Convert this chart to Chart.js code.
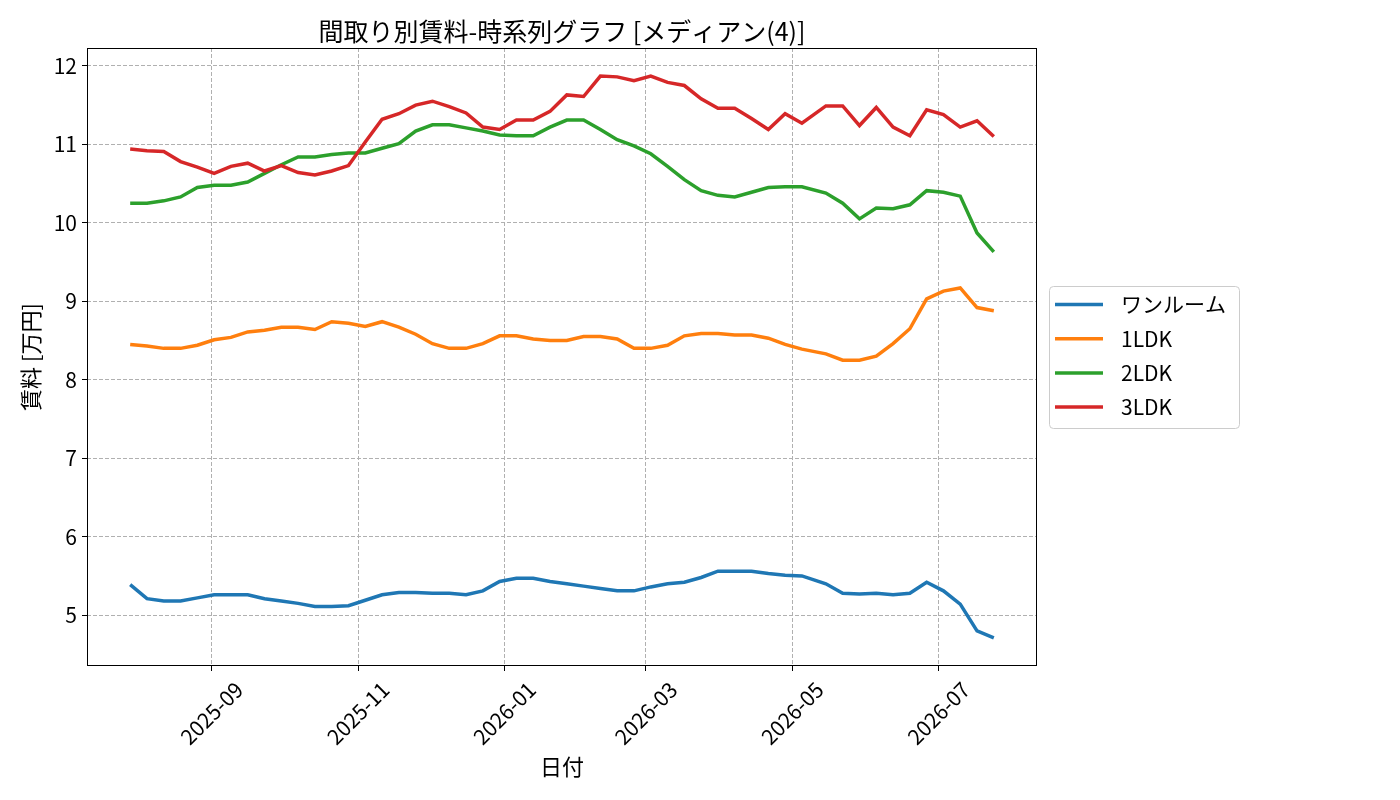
<!DOCTYPE html>
<html lang="ja">
<head>
<meta charset="utf-8">
<title>間取り別賃料-時系列グラフ</title>
<script src="https://cdn.jsdelivr.net/npm/chart.js@4.4.1/dist/chart.umd.min.js"></script>
<style>
  html, body { margin: 0; padding: 0; background: #fff; }
  #wrap { width: 1400px; height: 800px; }
</style>
</head>
<body>
<div id="wrap"><canvas id="rentChart" width="1400" height="800"></canvas></div>
<script>
// 日付（週次、1か所だけ10日間隔）
const dates = [
  '2025-07-29', '2025-08-05', '2025-08-12', '2025-08-19', '2025-08-26',
  '2025-09-02', '2025-09-09', '2025-09-16', '2025-09-23', '2025-09-30',
  '2025-10-07', '2025-10-14', '2025-10-21', '2025-10-28', '2025-11-04',
  '2025-11-11', '2025-11-18', '2025-11-25', '2025-12-02', '2025-12-09',
  '2025-12-16', '2025-12-23', '2025-12-30', '2026-01-06', '2026-01-13',
  '2026-01-20', '2026-01-27', '2026-02-03', '2026-02-10', '2026-02-17',
  '2026-02-24', '2026-03-03', '2026-03-10', '2026-03-17', '2026-03-24',
  '2026-03-31', '2026-04-07', '2026-04-14', '2026-04-21', '2026-04-28',
  '2026-05-05', '2026-05-15', '2026-05-22', '2026-05-29', '2026-06-05',
  '2026-06-12', '2026-06-19', '2026-06-26', '2026-07-03', '2026-07-10',
  '2026-07-17', '2026-07-24'
];

// 賃料 [万円]
const oneRoom = [
  5.39, 5.21, 5.18, 5.18, 5.22, 5.26, 5.26, 5.26, 5.21, 5.18,
  5.15, 5.11, 5.11, 5.12, 5.19, 5.26, 5.29, 5.29, 5.28, 5.28,
  5.26, 5.31, 5.43, 5.47, 5.47, 5.43, 5.40, 5.37, 5.34, 5.31,
  5.31, 5.36, 5.40, 5.42, 5.48, 5.56, 5.56, 5.56, 5.53, 5.51,
  5.50, 5.40, 5.28, 5.27, 5.28, 5.26, 5.28, 5.42, 5.31, 5.14,
  4.80, 4.71
];
const oneLDK = [
  8.45, 8.43, 8.40, 8.40, 8.44, 8.51, 8.54, 8.61, 8.63, 8.67,
  8.67, 8.64, 8.74, 8.72, 8.68, 8.74, 8.67, 8.58, 8.46, 8.40,
  8.40, 8.46, 8.56, 8.56, 8.52, 8.50, 8.50, 8.55, 8.55, 8.52,
  8.40, 8.40, 8.44, 8.56, 8.59, 8.59, 8.57, 8.57, 8.53, 8.45,
  8.39, 8.33, 8.25, 8.25, 8.30, 8.46, 8.65, 9.03, 9.13, 9.17,
  8.92, 8.88
];
const twoLDK = [
  10.25, 10.25, 10.28, 10.33, 10.45, 10.48, 10.48, 10.52, 10.63, 10.74,
  10.84, 10.84, 10.87, 10.89, 10.89, 10.95, 11.01, 11.17, 11.25, 11.25,
  11.21, 11.17, 11.12, 11.11, 11.11, 11.22, 11.31, 11.31, 11.19, 11.06,
  10.98, 10.88, 10.72, 10.55, 10.41, 10.35, 10.33, 10.39, 10.45, 10.46,
  10.46, 10.38, 10.25, 10.05, 10.19, 10.18, 10.23, 10.41, 10.39, 10.34,
  9.87, 9.63
];
const threeLDK = [
  10.94, 10.92, 10.91, 10.78, 10.71, 10.63, 10.72, 10.76, 10.66, 10.73,
  10.64, 10.61, 10.66, 10.73, 11.03, 11.32, 11.39, 11.50, 11.55, 11.48,
  11.40, 11.22, 11.19, 11.31, 11.31, 11.42, 11.63, 11.61, 11.87, 11.86,
  11.81, 11.87, 11.79, 11.75, 11.58, 11.46, 11.46, 11.33, 11.19, 11.39,
  11.27, 11.49, 11.49, 11.24, 11.47, 11.22, 11.11, 11.44, 11.38, 11.22,
  11.30, 11.10
];

const seriesLabels = ['ワンルーム', '1LDK', '2LDK', '3LDK'];
const seriesColors = ['#1f77b4', '#ff7f0e', '#2ca02c', '#d62728'];

// 目盛り
const xTickDates = ['2025-09-01', '2025-11-01', '2026-01-01', '2026-03-01', '2026-05-01', '2026-07-01'];
const xTickLabels = ['2025-09', '2025-11', '2026-01', '2026-03', '2026-05', '2026-07'];
const yTicks = [5, 6, 7, 8, 9, 10, 11, 12];

const FONT = '"Noto Sans CJK JP", "Noto Sans", sans-serif';
const toDay = s => Date.parse(s) / 86400000;
const xs = dates.map(toDay);

const toPoints = arr => arr.map((v, i) => ({ x: xs[i], y: v }));
const allValues = [].concat(oneRoom, oneLDK, twoLDK, threeLDK);

// matplotlib風の5%余白
const xSpan = xs[xs.length - 1] - xs[0];
const yMin = Math.min(...allValues), yMax = Math.max(...allValues);
const ySpan = yMax - yMin;

const tickTextPx = 21;

// タイトル・軸ラベル・x目盛り文字・枠線・凡例を描く
const decorPlugin = {
  id: 'decor',
  afterDatasetsDraw(chart) {
    const { ctx, chartArea: a } = chart;
    ctx.save();

    // 枠線
    ctx.strokeStyle = '#000';
    ctx.lineWidth = 1;
    ctx.strokeRect(Math.round(a.left) + 0.5, Math.round(a.top) + 0.5,
      Math.round(a.right - a.left) - 1, Math.round(a.bottom - a.top) - 1);

    ctx.fillStyle = '#000';

    // タイトル
    ctx.font = `25px ${FONT}`;
    ctx.textAlign = 'center';
    ctx.textBaseline = 'middle';
    ctx.fillText('間取り別賃料-時系列グラフ [メディアン(4)]', (a.left + a.right) / 2, 31);

    // x軸ラベル
    ctx.font = `22px ${FONT}`;
    ctx.fillText('日付', (a.left + a.right) / 2, 767);

    // y軸ラベル
    ctx.save();
    ctx.translate(31, (a.top + a.bottom) / 2);
    ctx.rotate(-Math.PI / 2);
    ctx.fillText('賃料 [万円]', 0, 0);
    ctx.restore();

    // x目盛り文字（45度回転、中心揃え）
    const xScale = chart.scales.x;
    ctx.font = `${tickTextPx}px ${FONT}`;
    xTickDates.forEach((d, i) => {
      const px = xScale.getPixelForValue(toDay(d));
      const w = ctx.measureText(xTickLabels[i]).width;
      const h = tickTextPx * 1.2;
      const half = (w + h) * Math.SQRT1_2 / 2;
      ctx.save();
      ctx.translate(px, a.bottom + 11 + half);
      ctx.rotate(-Math.PI / 4);
      ctx.fillText(xTickLabels[i], 0, 0);
      ctx.restore();
    });

    // 凡例
    const lx = 1049.5, ly = 286.5, lw = 190, lh = 142;
    ctx.beginPath();
    ctx.roundRect(lx, ly, lw, lh, 4);
    ctx.fillStyle = 'rgba(255,255,255,0.8)';
    ctx.fill();
    ctx.strokeStyle = '#cccccc';
    ctx.stroke();
    ctx.textAlign = 'left';
    ctx.font = `${tickTextPx}px ${FONT}`;
    chart.data.datasets.forEach((ds, i) => {
      const y = 304.5 + i * 34.2;
      ctx.strokeStyle = ds.borderColor;
      ctx.lineWidth = 3.5;
      ctx.beginPath();
      ctx.moveTo(1055, y);
      ctx.lineTo(1103, y);
      ctx.stroke();
      ctx.fillStyle = '#000';
      ctx.fillText(ds.label, 1121, y);
    });

    ctx.restore();
  }
};

const ctx = document.getElementById('rentChart').getContext('2d');

new Chart(ctx, {
  type: 'line',
  data: {
    datasets: [oneRoom, oneLDK, twoLDK, threeLDK].map((arr, i) => ({
      label: seriesLabels[i],
      data: toPoints(arr),
      borderColor: seriesColors[i],
      backgroundColor: seriesColors[i],
      borderWidth: 3.5,
      pointRadius: 0,
      tension: 0,
      fill: false,
      order: 3 - i // 3LDKを一番上に
    }))
  },
  options: {
    responsive: false,
    animation: false,
    devicePixelRatio: 1,
    layout: { padding: { left: 0, top: 48, right: 363, bottom: 0 } },
    plugins: {
      legend: { display: false },
      title: { display: false },
      tooltip: { enabled: false }
    },
    scales: {
      x: {
        type: 'linear',
        min: xs[0] - xSpan * 0.05,
        max: xs[xs.length - 1] + xSpan * 0.05,
        afterBuildTicks: scale => {
          scale.ticks = xTickDates.map(d => ({ value: toDay(d) }));
        },
        afterFit: scale => { scale.height = 134; },
        ticks: {
          autoSkip: false,
          maxRotation: 0,
          minRotation: 0,
          color: 'rgba(0,0,0,0)',
          callback: (v, i) => xTickLabels[i] || ''
        },
        grid: {
          color: '#b0b0b0',
          lineWidth: 1,
          tickColor: '#000',
          tickLength: 5,
          tickWidth: 1
        },
        border: { display: false, dash: [4, 2] }
      },
      y: {
        min: yMin - ySpan * 0.05,
        max: yMax + ySpan * 0.05,
        afterBuildTicks: scale => {
          scale.ticks = yTicks.map(v => ({ value: v }));
        },
        afterFit: scale => { scale.width = 87; },
        ticks: {
          color: '#000',
          padding: 5,
          font: { family: FONT, size: tickTextPx },
          callback: v => String(v)
        },
        grid: {
          color: '#b0b0b0',
          lineWidth: 1,
          tickColor: '#000',
          tickLength: 5,
          tickWidth: 1
        },
        border: { display: false, dash: [4, 2] }
      }
    }
  },
  plugins: [decorPlugin]
});
</script>
</body>
</html>
